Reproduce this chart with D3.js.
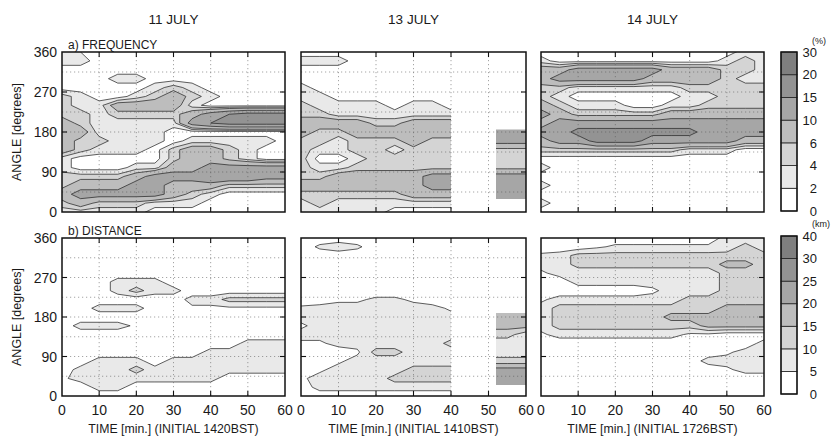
<!DOCTYPE html>
<html><head><meta charset="utf-8">
<script src="https://cdn.jsdelivr.net/npm/d3@7"></script>
<style>
body{margin:0;background:#fff}
svg{display:block}
text{font-family:"Liberation Sans",Arial,Helvetica,sans-serif;fill:#1a1a1a}
</style>
</head><body>
<svg id="c" width="832" height="437"></svg>
<script>
// ---------------- DATA ----------------
const days = ["11 JULY", "13 JULY", "14 JULY"];
const initials = ["1420BST", "1410BST", "1726BST"];
const rowTitles = ["a) FREQUENCY", "b) DISTANCE"];
const units = ["(%)", "(km)"];
const timeTicks = [0, 10, 20, 30, 40, 50, 60];
const angleTicks = [0, 90, 180, 270, 360];
const timeSteps = [0, 5, 10, 15, 20, 25, 30, 35, 40, 45, 50, 55, 60];
const angleSteps = [360, 340, 320, 300, 280, 260, 240, 220, 200, 180, 160, 140, 120, 100, 80, 60, 40, 20, 0];
const freqLevels = [0, 2, 4, 6, 10, 15, 20, 30];
const distLevels = [0, 5, 10, 15, 20, 25, 30, 40];

// frequency (%) ; rows = angleSteps (360 -> 0), columns = timeSteps
const freq11 = [
  [3,2,1,1,1,1,1,1,1,1,1,1,1],
  [3,3,1,1,1,1,1,1,1,1,1,1,1],
  [1,1,1,1,1,1,1,1,1,1,1,1,1],
  [1,1,1,3,3,1,1,1,1,1,1,1,1],
  [1,1,1,1,1,3,5,3,1,1,1,1,1],
  [5,3,1,1,3,5,8,5,3,1,1,1,1],
  [5,3,3,8,8,8,8,3,1,1,1,1,1],
  [5,5,3,5,5,5,5,8,12,15,17,17,17],
  [8,5,3,3,3,3,3,12,15,17,17,17,17],
  [8,8,3,3,3,3,1,1,1,1,1,1,1],
  [8,5,5,3,3,3,1,3,3,3,3,3,1],
  [8,5,3,3,3,1,5,8,8,5,3,1,1],
  [3,1,1,1,1,1,5,8,8,5,3,1,1],
  [3,1,1,1,3,3,8,8,12,12,12,12,12],
  [5,5,5,5,8,12,12,12,15,15,15,12,12],
  [5,8,8,8,12,12,8,8,8,5,5,5,5],
  [8,12,12,12,12,12,8,5,3,1,1,1,1],
  [5,8,5,5,5,3,3,3,1,1,1,1,1],
  [3,3,3,3,3,1,1,1,1,1,1,1,1]
];
const freq13 = [
  [1,1,1,1,1,1,1,1,1,1,1,1,1],
  [3,3,3,1,1,1,1,1,1,1,1,1,1],
  [1,1,1,1,1,1,1,1,1,1,1,1,1],
  [1,1,1,1,1,1,1,1,1,1,1,1,1],
  [3,1,1,1,1,1,1,1,1,1,1,1,1],
  [3,3,1,1,1,1,1,1,1,1,1,1,1],
  [5,3,3,3,3,1,3,3,1,1,1,1,1],
  [5,5,3,3,3,3,3,3,3,3,12,12,12],
  [8,8,8,8,5,5,8,8,8,8,12,12,12],
  [8,5,5,8,8,8,8,8,8,8,12,12,12],
  [5,5,3,5,5,5,8,5,5,5,12,12,12],
  [5,3,3,5,5,3,5,5,5,5,5,5,5],
  [5,1,1,3,5,5,5,5,5,5,5,5,5],
  [5,3,3,5,5,5,5,5,5,5,5,5,5],
  [5,5,8,8,8,8,8,12,12,12,12,12,12],
  [8,8,8,8,8,8,8,12,12,12,12,12,12],
  [5,5,5,5,5,5,8,8,8,8,12,12,12],
  [3,5,3,3,3,3,3,3,3,3,12,12,12],
  [3,3,3,3,3,1,1,1,1,1,1,1,1]
];
const freq14 = [
  [1,1,1,1,1,1,1,1,1,1,1,3,3],
  [3,1,1,1,1,1,1,1,1,1,3,5,3],
  [8,8,12,12,12,12,12,8,8,8,5,5,3],
  [8,12,12,12,12,12,8,8,8,8,5,3,3],
  [5,5,3,3,3,3,3,3,5,5,5,5,5],
  [5,3,1,1,1,1,1,1,3,3,5,5,5],
  [8,5,3,3,3,1,1,3,3,5,5,5,5],
  [12,8,5,5,5,5,5,8,8,8,8,8,8],
  [8,12,12,12,12,12,12,12,12,12,12,12,12],
  [12,12,17,17,17,17,17,17,17,12,12,12,12],
  [8,12,12,17,17,17,12,12,12,12,12,8,8],
  [5,5,5,5,5,5,5,5,3,3,3,1,1],
  [1,1,1,1,1,1,1,1,1,1,1,1,1],
  [3,1,1,1,1,1,1,1,1,1,1,1,1],
  [1,1,1,1,1,1,1,1,1,1,1,1,1],
  [3,1,1,1,1,1,1,1,1,1,1,1,1],
  [1,1,1,1,1,1,1,1,1,1,1,1,1],
  [3,1,1,1,1,1,1,1,1,1,1,1,1],
  [1,1,1,1,1,1,1,1,1,1,1,1,1]
];
// distance (km)
const dist11 = [
  [2,2,2,2,2,2,2,2,2,2,2,2,2],
  [2,2,2,2,2,2,2,2,2,2,2,2,2],
  [2,2,2,2,2,2,2,2,2,2,2,2,2],
  [2,2,2,2,2,2,2,2,2,2,2,2,2],
  [2,2,2,2,2,2,2,2,2,2,2,2,2],
  [2,2,2,7,7,7,2,2,2,2,2,2,2],
  [2,2,2,7,12,7,7,2,2,2,2,2,2],
  [2,2,2,2,2,2,2,7,7,12,12,12,12],
  [2,2,7,7,7,2,2,4,4,4,4,4,4],
  [2,2,2,2,2,2,2,2,2,2,2,2,2],
  [2,7,7,7,4,2,2,2,2,2,2,2,2],
  [2,2,2,2,2,2,2,2,2,2,2,2,2],
  [2,2,2,2,2,2,2,2,2,2,7,7,7],
  [2,2,2,2,2,2,2,2,7,7,7,7,7],
  [2,2,7,7,7,2,7,7,7,7,7,7,7],
  [2,7,7,7,12,7,7,7,7,7,7,7,7],
  [4,7,7,7,7,7,7,7,7,2,2,2,2],
  [2,2,7,7,2,2,2,2,2,2,2,2,2],
  [2,2,2,2,2,2,2,2,2,2,2,2,2]
];
const dist13 = [
  [2,2,2,2,2,2,2,2,2,2,2,2,2],
  [2,6,8,6,2,2,2,2,2,2,2,2,2],
  [2,2,2,2,2,2,2,2,2,2,2,2,2],
  [2,2,2,2,2,2,2,2,2,2,2,2,2],
  [2,2,2,2,2,2,2,2,2,2,2,2,2],
  [2,2,2,2,2,2,2,2,2,2,2,2,2],
  [2,2,2,2,2,2,2,2,2,2,2,2,2],
  [2,2,4,4,6,6,4,2,2,2,2,2,2],
  [6,7,7,7,7,7,7,7,4,4,17,17,17],
  [7,7,7,7,7,7,7,7,7,7,17,17,17],
  [4,7,7,7,7,7,7,7,7,7,17,17,17],
  [7,7,7,7,7,7,7,7,7,7,12,12,7],
  [4,4,7,7,7,7,7,7,12,7,7,7,7],
  [2,2,2,4,12,12,7,7,7,7,7,7,7],
  [2,2,4,7,7,7,7,7,7,7,12,12,12],
  [2,4,7,7,7,7,12,12,12,12,22,22,22],
  [4,7,7,7,7,12,12,12,12,12,22,22,22],
  [2,7,7,7,7,7,7,7,7,7,22,22,22],
  [2,2,2,2,2,2,2,2,2,2,2,2,2]
];
const dist14 = [
  [2,2,2,2,2,2,2,2,2,2,7,7,7],
  [2,2,2,4,6,6,6,6,6,6,7,12,7],
  [6,7,12,12,12,12,12,12,12,12,12,12,12],
  [7,7,12,12,12,12,12,12,12,12,17,17,12],
  [4,7,7,7,7,7,7,7,7,7,12,12,12],
  [2,2,7,7,7,7,7,7,7,7,12,12,12],
  [2,2,2,2,2,2,4,7,7,7,12,12,12],
  [4,7,7,7,7,7,7,7,12,12,12,12,12],
  [7,12,12,12,12,12,12,12,12,12,17,17,17],
  [7,12,12,12,12,12,12,17,17,17,17,17,17],
  [7,12,12,12,12,12,12,12,12,17,17,17,17],
  [4,7,7,7,7,7,7,7,4,4,2,2,2],
  [2,2,2,2,2,2,2,2,2,2,2,2,7],
  [2,2,2,2,2,2,2,2,2,2,4,7,7],
  [2,2,2,2,2,2,2,2,2,7,7,7,7],
  [2,2,2,2,2,2,2,2,2,2,4,7,7],
  [2,2,2,2,2,2,2,2,2,2,2,2,2],
  [2,2,2,2,2,2,2,2,2,2,2,2,2],
  [2,2,2,2,2,2,2,2,2,2,2,2,2]
];
// regions with data: [t0, t1, angle0, angle1]
const validFull = [[0, 60, 0, 360]];
const validFreq13 = [[0, 40, 0, 360], [52, 60, 29, 185]];
const validDist13 = [[0, 40, 0, 360], [52, 60, 25, 189]];

// ---------------- LAYOUT / STYLE ----------------
const bandColors = ["#ffffff", "#e9e9e9", "#d4d4d4", "#bdbdbd", "#a6a6a6", "#939393", "#7f7f7f"];
const colBox = [[62, 285], [301, 526], [541, 764]];
const rowBox = [[52, 212], [238, 396]];
const cbBox = [[52, 211], [236, 394]];
const cbX = [781, 797];

const svg = d3.select("#c");
const defs = svg.append("defs");

const panels = [
  {r: 0, c: 0, grid: freq11, levels: freqLevels, valid: validFull},
  {r: 0, c: 1, grid: freq13, levels: freqLevels, valid: validFreq13},
  {r: 0, c: 2, grid: freq14, levels: freqLevels, valid: validFull},
  {r: 1, c: 0, grid: dist11, levels: distLevels, valid: validFull},
  {r: 1, c: 1, grid: dist13, levels: distLevels, valid: validDist13},
  {r: 1, c: 2, grid: dist14, levels: distLevels, valid: validFull}
];

panels.forEach((p, idx) => {
  const [x0, x1] = colBox[p.c], [y0, y1] = rowBox[p.r];
  const x = d3.scaleLinear().domain([0, 60]).range([x0, x1]);
  const y = d3.scaleLinear().domain([0, 360]).range([y1, y0]);
  const nx = timeSteps.length, ny = angleSteps.length;
  const dt = timeSteps[1] - timeSteps[0], da = angleSteps[0] - angleSteps[1];
  const proj = d3.geoTransform({
    point(px, py) {
      this.stream.point(x(timeSteps[0] + (px - 0.5) * dt), y(angleSteps[0] - (py - 0.5) * da));
    }
  });
  const path = d3.geoPath(proj);
  const thresholds = p.levels.slice(1, -1);
  const contours = d3.contours().size([nx, ny]).thresholds(thresholds)(p.grid.flat());

  const cid = "clip" + idx;
  const cp = defs.append("clipPath").attr("id", cid);
  p.valid.forEach(v => {
    cp.append("rect")
      .attr("x", x(v[0])).attr("y", y(v[3]))
      .attr("width", x(v[1]) - x(v[0])).attr("height", y(v[2]) - y(v[3]));
  });

  svg.append("rect").attr("x", x0).attr("y", y0).attr("width", x1 - x0).attr("height", y1 - y0).attr("fill", "#fff");
  const g = svg.append("g").attr("clip-path", `url(#${cid})`);
  g.selectAll("path").data(contours).join("path")
    .attr("d", path)
    .attr("fill", (d, i) => bandColors[i + 1])
    .attr("stroke", "#2a2a2a")
    .attr("stroke-width", 0.75)
    .attr("stroke-linejoin", "round");

  // dotted grid
  const grid = svg.append("g").attr("stroke", "#555").attr("stroke-width", 0.7)
    .attr("stroke-dasharray", "1.2,2.8").attr("opacity", 0.75);
  d3.range(10, 60, 10).forEach(t => grid.append("line")
    .attr("x1", x(t)).attr("x2", x(t)).attr("y1", y0).attr("y2", y1));
  d3.range(45, 360, 45).forEach(a => grid.append("line")
    .attr("x1", x0).attr("x2", x1).attr("y1", y(a)).attr("y2", y(a)));

  // inward ticks
  const tk = svg.append("g").attr("stroke", "#111").attr("stroke-width", 1.1);
  timeTicks.slice(1, -1).forEach(t => {
    tk.append("line").attr("x1", x(t)).attr("x2", x(t)).attr("y1", y1).attr("y2", y1 - 5);
    tk.append("line").attr("x1", x(t)).attr("x2", x(t)).attr("y1", y0).attr("y2", y0 + 5);
  });
  angleTicks.slice(1, -1).forEach(a => {
    tk.append("line").attr("x1", x0).attr("x2", x0 + 5).attr("y1", y(a)).attr("y2", y(a));
    tk.append("line").attr("x1", x1).attr("x2", x1 - 5).attr("y1", y(a)).attr("y2", y(a));
  });

  // frame
  svg.append("rect").attr("x", x0).attr("y", y0).attr("width", x1 - x0).attr("height", y1 - y0)
    .attr("fill", "none").attr("stroke", "#111").attr("stroke-width", 1.5);

  if (p.c === 0) {
    angleTicks.forEach(a => svg.append("text")
      .attr("x", x0 - 5).attr("y", y(a)).attr("dy", "0.36em")
      .attr("text-anchor", "end").attr("font-size", 14).text(a));
    svg.append("text")
      .attr("transform", `translate(21,${(y0 + y1) / 2}) rotate(-90)`)
      .attr("text-anchor", "middle").attr("font-size", 12.5).text("ANGLE [degrees]");
    svg.append("text").attr("x", x0 + 6).attr("y", y0 - 3)
      .attr("font-size", 12).text(rowTitles[p.r]);
  }
  if (p.r === 1) {
    timeTicks.forEach(t => svg.append("text")
      .attr("x", x(t)).attr("y", y1 + 19)
      .attr("text-anchor", "middle").attr("font-size", 14).text(t));
    svg.append("text").attr("x", (x0 + x1) / 2).attr("y", y1 + 37)
      .attr("text-anchor", "middle").attr("font-size", 12.3)
      .text(`TIME [min.] (INITIAL ${initials[p.c]})`);
  }
  if (p.r === 0) {
    svg.append("text").attr("x", (x0 + x1) / 2).attr("y", 24)
      .attr("text-anchor", "middle").attr("font-size", 13.5).text(days[p.c]);
  }
});

// colour bars
[freqLevels, distLevels].forEach((levels, r) => {
  const [y0, y1] = cbBox[r];
  const s = d3.scaleLinear().domain([0, levels.length - 1]).range([y1, y0]);
  const g = svg.append("g");
  d3.range(levels.length - 1).forEach(k => {
    g.append("rect").attr("x", cbX[0]).attr("y", s(k + 1))
      .attr("width", cbX[1] - cbX[0]).attr("height", s(k) - s(k + 1))
      .attr("fill", bandColors[k]).attr("stroke", "#222").attr("stroke-width", 0.8);
  });
  g.append("rect").attr("x", cbX[0]).attr("y", y0).attr("width", cbX[1] - cbX[0]).attr("height", y1 - y0)
    .attr("fill", "none").attr("stroke", "#111").attr("stroke-width", 1.4);
  levels.forEach((v, k) => g.append("text")
    .attr("x", 817).attr("y", s(k)).attr("dy", "0.36em")
    .attr("text-anchor", "end").attr("font-size", 13).text(v));
  g.append("text").attr("x", 812).attr("y", r === 0 ? y0 - 8 : y0 - 9.2)
    .attr("font-size", 9).text(units[r]);
});
</script>
</body></html>
